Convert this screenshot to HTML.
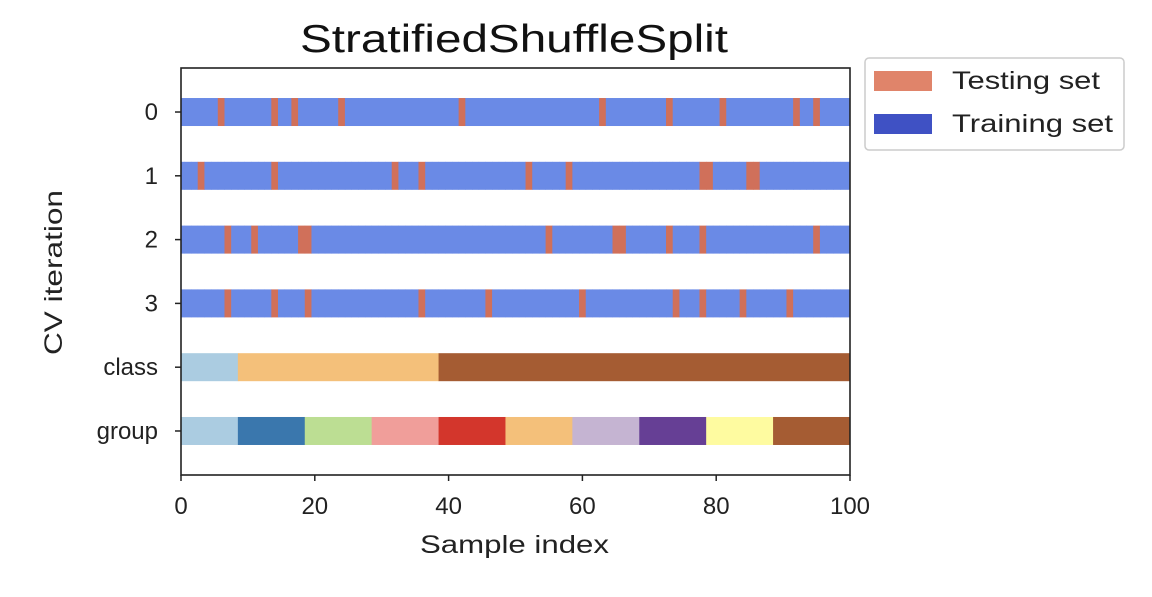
<!DOCTYPE html>
<html><head><meta charset="utf-8"><style>
body{margin:0;background:#fff;width:1152px;height:592px;overflow:hidden;font-family:"Liberation Sans","DejaVu Sans",sans-serif}
</style></head><body>
<svg id="chart" width="1152" height="592" xmlns="http://www.w3.org/2000/svg" font-family="Liberation Sans, DejaVu Sans, sans-serif">
<text x="300" y="52" font-size="39" textLength="428" lengthAdjust="spacingAndGlyphs" fill="#111">StratifiedShuffleSplit</text>
<g id="marks"></g>
<rect x="181" y="68" width="669" height="407" fill="none" stroke="#222" stroke-width="1.6"/>
<g id="axes"></g>
<text x="420" y="553" font-size="25" textLength="189" lengthAdjust="spacingAndGlyphs" fill="#222">Sample index</text>
<text transform="translate(62,355) rotate(-90)" font-size="25" textLength="165" lengthAdjust="spacingAndGlyphs" fill="#222">CV iteration</text>
<g>
<rect x="865" y="58" width="259" height="92" rx="4" fill="#fff" stroke="#ccc" stroke-width="1.5"/>
<rect x="874" y="71" width="58" height="20" fill="#e0846a"/>
<text x="952" y="89" font-size="25" textLength="148" lengthAdjust="spacingAndGlyphs" fill="#222">Testing set</text>
<rect x="874" y="114" width="58" height="20" fill="#3f51c4"/>
<text x="952" y="132" font-size="25" textLength="161" lengthAdjust="spacingAndGlyphs" fill="#222">Training set</text>
</g>
</svg>
<script>
const nSamples = 100;
const testSets = [
  [6,14,17,24,42,63,73,81,92,95],
  [3,14,32,36,52,58,78,79,85,86],
  [7,11,18,19,55,65,66,73,78,95],
  [7,14,19,36,46,60,74,78,84,91]
];
const rowLabels = ["0","1","2","3","class","group"];
const classSizes = [9,30,61];
const groupSizes = [9,10,10,10,10,10,10,10,10,11];
const xTicks = [0,20,40,60,80,100];
const classColors = ["#abcce1","#f4c07a","#a55c33"];
const groupColors = ["#abcce1","#3a77ad","#bcde93","#f09e9a","#d3362c","#f4c07a","#c5b4d2","#663f95","#fefba0","#a55c33"];

const NS="http://www.w3.org/2000/svg";
const X0=181,X1=850,Y0=68,Y1=475;
const yMin=-0.69,yMax=5.69;
function xs(v){return X0+(v/100)*(X1-X0);}
function ys(r){return Y0+(r-yMin)/(yMax-yMin)*(Y1-Y0);}
const marks=document.getElementById('marks');
const axes=document.getElementById('axes');
function mk(tag,attrs,parent){const e=document.createElementNS(NS,tag);for(const k in attrs)e.setAttribute(k,attrs[k]);parent.appendChild(e);return e;}
function seg(i){let a=Math.max(0,i-0.5),b=Math.min(100,i+0.5);if(i===nSamples-1)b=100;return [a,b];}
const H=28;
testSets.forEach((ts,r)=>{
  for(let i=0;i<nSamples;i++){
    const [a,b]=seg(i);const isT=ts.includes(i);
    const el=mk('rect',{x:xs(a),y:ys(r)-H/2,width:xs(b)-xs(a)+0.4,height:H,fill:isT?'#d0705a':'#6a8ae6'},marks);
    
    
  }
});
function drawSizes(sizes,colors,r,name){
  let s=0;sizes.forEach((n,k)=>{
    const [a]=seg(s);const [,b]=seg(s+n-1);
    const el=mk('rect',{x:xs(a),y:ys(r)-H/2,width:xs(b)-xs(a)+0.4,height:H,fill:colors[k]},marks);
    
    
    s+=n;
  });
}
drawSizes(classSizes,classColors,4,'class-segment');
drawSizes(groupSizes,groupColors,5,'group-segment');
rowLabels.forEach((l,r)=>{
  const y=ys(r);
  mk('line',{x1:X0-6,x2:X0,y1:y,y2:y,stroke:'#222','stroke-width':1.5},axes);
  const t=mk('text',{x:X0-23,y:y+8,'font-size':24,'text-anchor':'end',fill:'#222'},axes);
  t.textContent=l;
  
  
});
xTicks.forEach(v=>{
  const x=xs(v);
  mk('line',{x1:x,x2:x,y1:Y1,y2:Y1+6,stroke:'#222','stroke-width':1.5},axes);
  const t=mk('text',{x:x,y:514,'font-size':24,'text-anchor':'middle',fill:'#222'},axes);
  t.textContent=v;
  
  
});
</script>
</body></html>
